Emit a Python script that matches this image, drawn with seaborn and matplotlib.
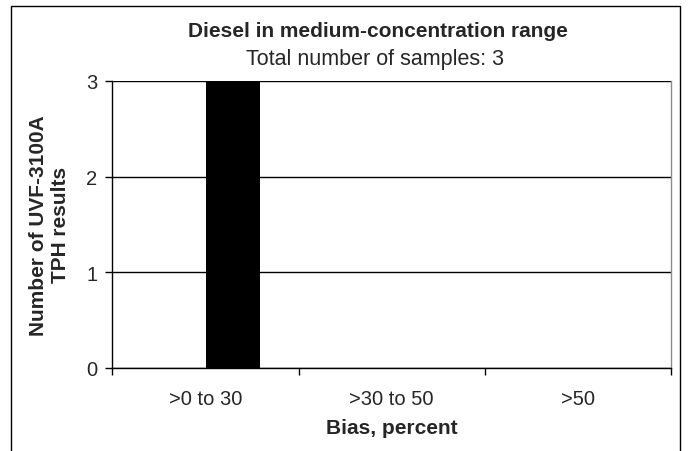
import numpy as np
import pandas as pd
import matplotlib
matplotlib.use("Agg")
import matplotlib.pyplot as plt
from matplotlib.patches import Rectangle
import seaborn as sns

# data
categories = [">0 to 30", ">30 to 50", ">50"]
diesel_counts = [3, 0, 0]
blank_counts = [0, 0, 0]   # empty first series (Excel clustered layout)
y_ticks = [0, 1, 2, 3]

title = "Diesel in medium-concentration range"
subtitle = "Total number of samples: 3"
x_label = "Bias, percent"
y_label = "Number of UVF-3100A\nTPH results"

sns.set_theme(style="white")
plt.rcParams["font.family"] = ["Liberation Sans", "DejaVu Sans"]

df = pd.DataFrame({
    "category": categories * 2,
    "count": blank_counts + diesel_counts,
    "series": ["blank"] * 3 + ["Diesel"] * 3,
})

fig = plt.figure(figsize=(6.88, 4.52), dpi=100)
ax = fig.add_axes([0.1635, 0.1843, 0.8117, 0.6343])

sns.barplot(data=df, x="category", y="count", hue="series",
            hue_order=["blank", "Diesel"],
            palette={"blank": "white", "Diesel": "black"},
            width=0.58, linewidth=0, legend=False, ax=ax)

ax.set_xlim(-0.5, 2.5)
ax.set_ylim(0, 3)
ax.set_yticks(y_ticks)
ax.yaxis.grid(True, color="black", linewidth=1)
ax.set_axisbelow(True)

# category labels centred, tick marks on the boundaries
ax.set_xticks(range(len(categories)))
ax.set_xticklabels(categories)
ax.set_xticks(np.arange(-0.5, len(categories), 1.0), minor=True)
ax.tick_params(axis="x", which="major", length=0, pad=15, labelsize=14.5)
ax.tick_params(axis="x", which="minor", length=5, width=1, color="black",
               direction="out", bottom=True)
ax.tick_params(axis="y", length=5, width=1, color="black", direction="out",
               left=True, pad=6, labelsize=14.5)

for side in ["left", "bottom"]:
    ax.spines[side].set_color("black")
    ax.spines[side].set_linewidth(1)
ax.spines["top"].set_visible(False)
ax.spines["right"].set_color("#8c8c8c")
ax.spines["right"].set_linewidth(1)

ax.set_xlabel(x_label, fontsize=15, fontweight="bold")
ax.xaxis.label.set_va("center")
ax.xaxis.set_label_coords(0.5, -0.21)
ax.set_ylabel(y_label, fontsize=15, fontweight="bold", linespacing=1.2)
ax.yaxis.label.set_va("center")
ax.yaxis.set_label_coords(-0.112, 0.5)

fig.text(378 / 688, 0.918, title, ha="center", va="baseline",
         fontsize=15, fontweight="bold")
fig.text(375 / 688, 0.856, subtitle, ha="center", va="baseline",
         fontsize=15.5)

# outer chart border (bottom edge is cut off in the reference)
fig.patches.append(Rectangle((11 / 688, -0.1), 669 / 688, 1.1 - 7 / 452,
                             transform=fig.transFigure, fill=False,
                             edgecolor="black", linewidth=1))

fig.savefig("out.png", dpi=100)
